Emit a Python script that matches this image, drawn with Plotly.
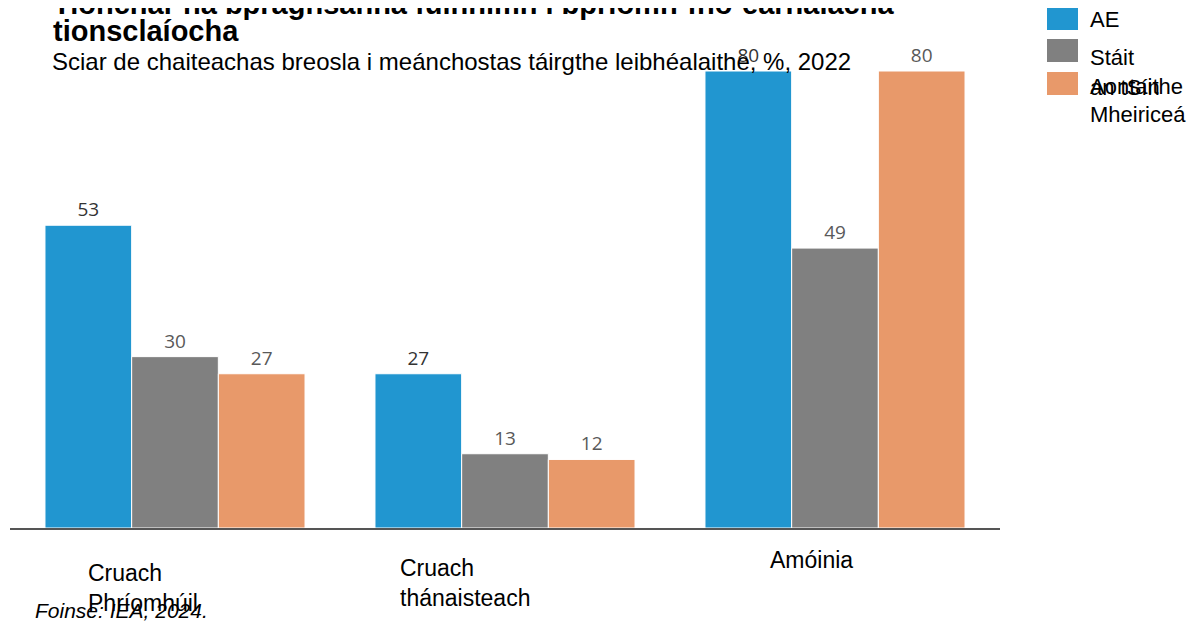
import plotly.graph_objects as go

categories = ["Cruach<br>Phríomhúil", "Cruach<br>thánaisteach", "Amóinia"]
series_names = ["AE", "Stáit Aontaithe Mheiriceá", "an tSín"]
legend_labels = ["AE", "Stáit<br>Aontaithe<br>Mheiriceá", "an tSín"]
ae_values = [53, 27, 80]
us_values = [30, 13, 49]
cn_values = [27, 12, 80]

title_line1 = "Tionchar na bpraghsanna fuinnimh i bpríomh-fho-earnálacha"
title_line2 = "tionsclaíocha"
subtitle = "Sciar de chaiteachas breosla i meánchostas táirgthe leibhéalaithe, %, 2022"
source = "Foinse: IEA, 2024."

colors = ["#2196D0", "#808080", "#E8996A"]
label_colors = ["#333333", "#595959", "#595959"]

W, H = 1199, 623
OFF = 8  # page body margin
ML, MR, MT, MB = 2, 207, 63, 103
PW = W - ML - MR
PH = H - MT - MB

def px_x(px):
    return (px - OFF - ML) / PW

def px_y(py):
    return (H - MB - (py - OFF)) / PH

FONT = "Liberation Sans, Arial, sans-serif"

fig = go.Figure()
for name, vals, col, lc in zip(series_names, [ae_values, us_values, cn_values], colors, label_colors):
    fig.add_trace(go.Bar(
        x=list(range(len(categories))), y=vals, name=name,
        marker=dict(color=col, line=dict(color="white", width=1)),
        text=[str(v) for v in vals], textposition="outside",
        textfont=dict(family="Open Sans, Noto Sans, sans-serif", size=19, color=lc),
        cliponaxis=False, showlegend=False,
    ))

annotations = []
annotations.append(dict(text="<b>" + title_line1 + "</b>", xref="paper", yref="paper", x=px_x(51), y=px_y(4),
                        xanchor="left", yanchor="middle", showarrow=False,
                        font=dict(family=FONT, size=29, color="black")))
annotations.append(dict(text="<b>" + title_line2 + "</b>", xref="paper", yref="paper", x=px_x(51), y=px_y(31),
                        xanchor="left", yanchor="middle", showarrow=False,
                        font=dict(family=FONT, size=29, color="black")))
annotations.append(dict(text=subtitle, xref="paper", yref="paper", x=px_x(50), y=px_y(61),
                        xanchor="left", yanchor="middle", showarrow=False,
                        font=dict(family=FONT, size=24, color="black")))
annotations.append(dict(text="<i>" + source + "</i>", xref="paper", yref="paper", x=px_x(33), y=px_y(610),
                        xanchor="left", yanchor="middle", showarrow=False,
                        font=dict(family=FONT, size=21, color="black")))

# Category labels
cat_offsets = [(-89, 573), (-107, 568), (-67, 560)]
for i, (cat, (dx, cy)) in enumerate(zip(categories, cat_offsets)):
    annotations.append(dict(text=cat, xref="x", yref="paper", x=i, y=px_y(cy - 15),
                            xshift=dx, xanchor="left", yanchor="top", align="left",
                            showarrow=False,
                            font=dict(family=FONT, size=23, color="black")))

# Manual legend
shapes = []
sq_tops = [7, 39, 72]
text_centers = [20, 58, 88]
for lab, col, top, tc in zip(legend_labels, colors, sq_tops, text_centers):
    shapes.append(dict(type="rect", xref="paper", yref="paper",
                       x0=px_x(1047), x1=px_x(1078), y0=px_y(top), y1=px_y(top + 23),
                       fillcolor=col, line=dict(width=0)))
    annotations.append(dict(text=lab, xref="paper", yref="paper", x=px_x(1088), y=px_y(tc - 15),
                            xanchor="left", yanchor="top", align="left", showarrow=False,
                            font=dict(family=FONT, size=22, color="black")))

fig.update_layout(
    width=W, height=H,
    margin=dict(l=ML, r=MR, t=MT, b=MB),
    paper_bgcolor="white", plot_bgcolor="white",
    barmode="group", bargap=0.212, bargroupgap=0,
    xaxis=dict(range=[-0.5, 2.5], showticklabels=False, ticks="", showgrid=False,
               zeroline=False, showline=True, linecolor="#555555", linewidth=1.5),
    yaxis=dict(range=[0, 80], visible=False, showgrid=False, zeroline=False),
    annotations=annotations, shapes=shapes,
    showlegend=False,
)

fig.write_html("out.html")
